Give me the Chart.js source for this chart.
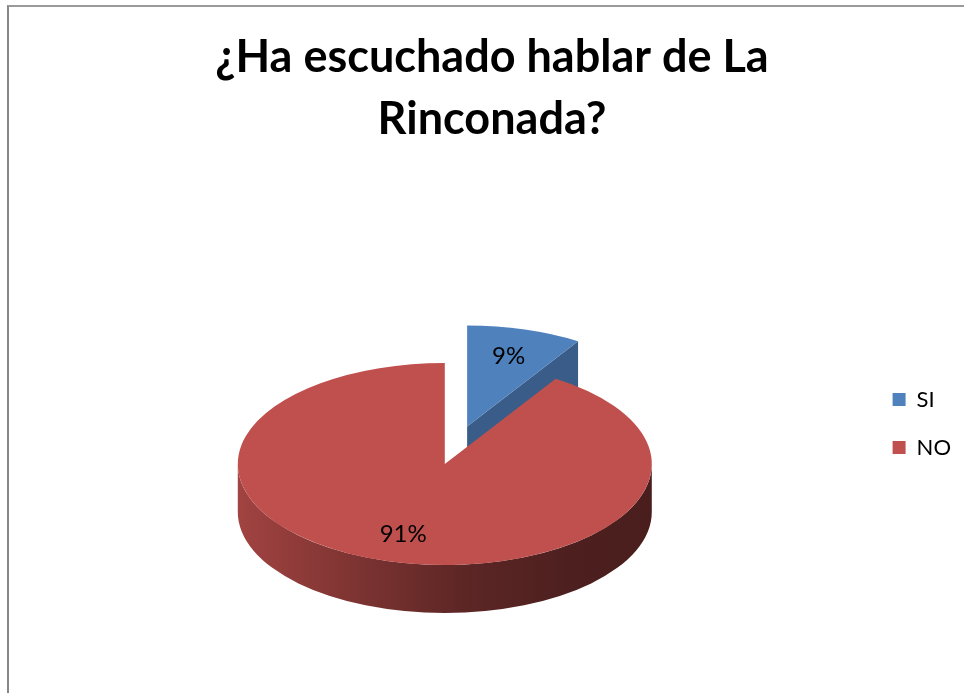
<!DOCTYPE html>
<html>
<head>
<meta charset="utf-8">
<script src="https://cdn.jsdelivr.net/npm/chart.js@4.4.1/dist/chart.umd.min.js"></script>
<style>
    html, body { margin: 0; padding: 0; background: #fff; overflow: hidden; }
    #frame {
        position: absolute; left: 7px; top: 5px; width: 1000px; height: 720px;
        border-left: 2px solid #878787; border-top: 2px solid #9a9a9a;
    }
    #pieChart { position: absolute; left: 0; top: 0; }
</style>
</head>
<body>
<div id="frame">
    <canvas id="pieChart" width="966" height="690"></canvas>
</div>
<script>
// chart data
const categories = ['SI', 'NO'];
const percentages = [9, 91];
const titleLines = ['¿Ha escuchado hablar de La', 'Rinconada?'];
const sliceColors = ['#4f81bd', '#c0504d'];
const explodedSlices = [true, false];

// 3D look
const tilt = 0.488;        // vertical squash of the pie
const sideDepth = 48;      // height of the pie wall on screen
const explodeDist = 80;    // how far the exploded slice moves out
const pieCenterY = 457;    // where the pie centre lands on the canvas
const labelPos = 0.72;     // label distance from centre, as part of radius

function shade(hex, f) {
    const n = parseInt(hex.slice(1), 16);
    const r = Math.round(((n >> 16) & 255) * f);
    const g = Math.round(((n >> 8) & 255) * f);
    const b = Math.round((n & 255) * f);
    return `rgb(${r}, ${g}, ${b})`;
}

// draws the library's arcs as a tilted 3D pie
const pie3d = {
    id: 'pie3d',
    beforeDatasetDraw(chart, args) {
        const ctx = chart.ctx;
        const arcs = args.meta.data;
        const cy = arcs[0].y;
        const depth = sideDepth / tilt;

        ctx.save();
        ctx.translate(0, pieCenterY);
        ctx.scale(1, tilt);
        ctx.translate(0, -cy);

        arcs.forEach((arc, i) => {
            const { x, y, startAngle, endAngle, outerRadius } =
                arc.getProps(['x', 'y', 'startAngle', 'endAngle', 'outerRadius']);
            const R = outerRadius;
            const mid = (startAngle + endAngle) / 2;
            const ex = explodedSlices[i] ? explodeDist : 0;
            const color = sliceColors[i];

            ctx.save();
            ctx.translate(Math.cos(mid) * ex, Math.sin(mid) * ex);

            // cut faces
            [[startAngle, -Math.cos(startAngle)], [endAngle, Math.cos(endAngle)]].forEach(([a, facing]) => {
                if (facing <= 0.01) return;
                ctx.beginPath();
                ctx.moveTo(x, y);
                ctx.lineTo(x + Math.cos(a) * R, y + Math.sin(a) * R);
                ctx.lineTo(x + Math.cos(a) * R, y + Math.sin(a) * R + depth);
                ctx.lineTo(x, y + depth);
                ctx.closePath();
                ctx.fillStyle = shade(color, 0.72);
                ctx.fill();
            });

            // outer wall, front half only
            for (let k = -1; k <= 1; k++) {
                const lo = Math.max(startAngle, 2 * Math.PI * k);
                const hi = Math.min(endAngle, 2 * Math.PI * k + Math.PI);
                if (hi <= lo) continue;
                const grad = ctx.createLinearGradient(x - R, 0, x + R, 0);
                grad.addColorStop(0, shade(color, 0.84));
                grad.addColorStop(0.3, shade(color, 0.64));
                grad.addColorStop(0.55, shade(color, 0.48));
                grad.addColorStop(0.8, shade(color, 0.4));
                grad.addColorStop(1, shade(color, 0.38));
                ctx.beginPath();
                ctx.arc(x, y, R, lo, hi);
                ctx.arc(x, y + depth, R, hi, lo, true);
                ctx.closePath();
                ctx.fillStyle = grad;
                ctx.fill();
            }

            // top face
            arc.draw(ctx);
            ctx.restore();
        });
        ctx.restore();

        // percentage labels
        ctx.save();
        ctx.font = '24px Lato';
        ctx.fillStyle = '#000';
        ctx.textAlign = 'center';
        ctx.textBaseline = 'middle';
        arcs.forEach((arc, i) => {
            const mid = (arc.startAngle + arc.endAngle) / 2;
            const ex = explodedSlices[i] ? explodeDist : 0;
            const d = ex + arc.outerRadius * labelPos;
            const lx = arc.x + Math.cos(mid) * d;
            const ly = pieCenterY + tilt * Math.sin(mid) * d;
            ctx.fillText(percentages[i] + '%', lx, ly);
        });
        ctx.restore();
        return false;
    }
};

const ctx = document.getElementById('pieChart').getContext('2d');
const pieChart = new Chart(ctx, {
    type: 'pie',
    data: {
        labels: categories,
        datasets: [{
            data: percentages,
            backgroundColor: sliceColors,
            borderWidth: 0,
            radius: 207
        }]
    },
    options: {
        responsive: false,
        devicePixelRatio: 1,
        animation: false,
        events: [],
        color: '#000',
        layout: { padding: { left: 14, right: 14, top: 0, bottom: 8 } },
        plugins: {
            title: {
                display: true,
                text: titleLines,
                color: '#000',
                font: { family: 'Lato', size: 45, weight: 'bold', lineHeight: 62 / 45 },
                padding: { top: 19, bottom: 8 }
            },
            legend: {
                position: 'right',
                fullSize: false,
                labels: {
                    boxWidth: 13,
                    boxHeight: 13,
                    padding: 26,
                    color: '#000',
                    font: { family: 'Lato', size: 22 }
                }
            },
            tooltip: { enabled: false }
        }
    },
    plugins: [pie3d]
});
</script>
</body>
</html>
